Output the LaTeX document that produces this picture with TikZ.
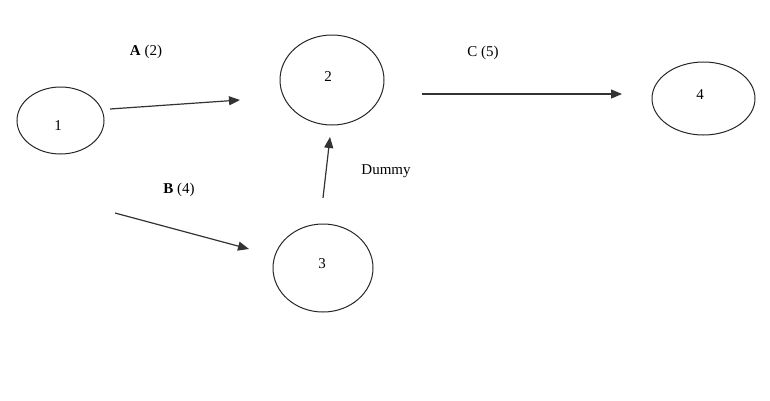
\documentclass[tikz,border=0pt]{standalone}
\usepackage{fontspec}
\setmainfont{Liberation Serif}
\usetikzlibrary{arrows.meta,shapes.geometric}
\begin{document}
\begin{tikzpicture}[x=1pt,y=-1pt,
  evt/.style={draw=black!85,line width=1pt,ellipse,inner sep=0pt},
  act/.style={draw=black!80,line width=1.2pt,-{Triangle[length=11pt,width=9pt]}},
  lbl/.style={font=\fontsize{15}{18}\selectfont,inner sep=0pt}]
\useasboundingbox (0,0) rectangle (770,400);
% events
\node[evt,minimum width=87pt,minimum height=67pt] (e1) at (60.5,120.5) {};
\node[evt,minimum width=104pt,minimum height=90pt] (e2) at (332,80) {};
\node[evt,minimum width=100pt,minimum height=88pt] (e3) at (323,268) {};
\node[evt,minimum width=103pt,minimum height=73pt] (e4) at (703.5,98.5) {};
\node[lbl] (n1) at (58,126) {1};
\node[lbl] (n2) at (328,77) {2};
\node[lbl] (n3) at (322,264) {3};
\node[lbl] (n4) at (700,95) {4};
% connector ends
\coordinate (a1) at (110,109);
\coordinate (a2) at (240,100);
\coordinate (b1) at (115,213);
\coordinate (b2) at (249,249);
\coordinate (d1) at (323,198);
\coordinate (d2) at (330,137);
\coordinate (c1) at (422,94);
\coordinate (c2) at (622,94);
\draw[act] (a1) -- (a2);
\draw[act] (b1) -- (b2);
\draw[act] (d1) -- (d2);
\draw[act] (c1) -- (c2);
% labels
\node[lbl] (la) at (146,52) {\textbf{A} (2)};
\node[lbl] (lb) at (179,190) {\textbf{B} (4)};
\node[lbl] (lc) at (483,53) {C (5)};
\node[lbl] (ld) at (386,171) {Dummy};
\end{tikzpicture}
\end{document}
